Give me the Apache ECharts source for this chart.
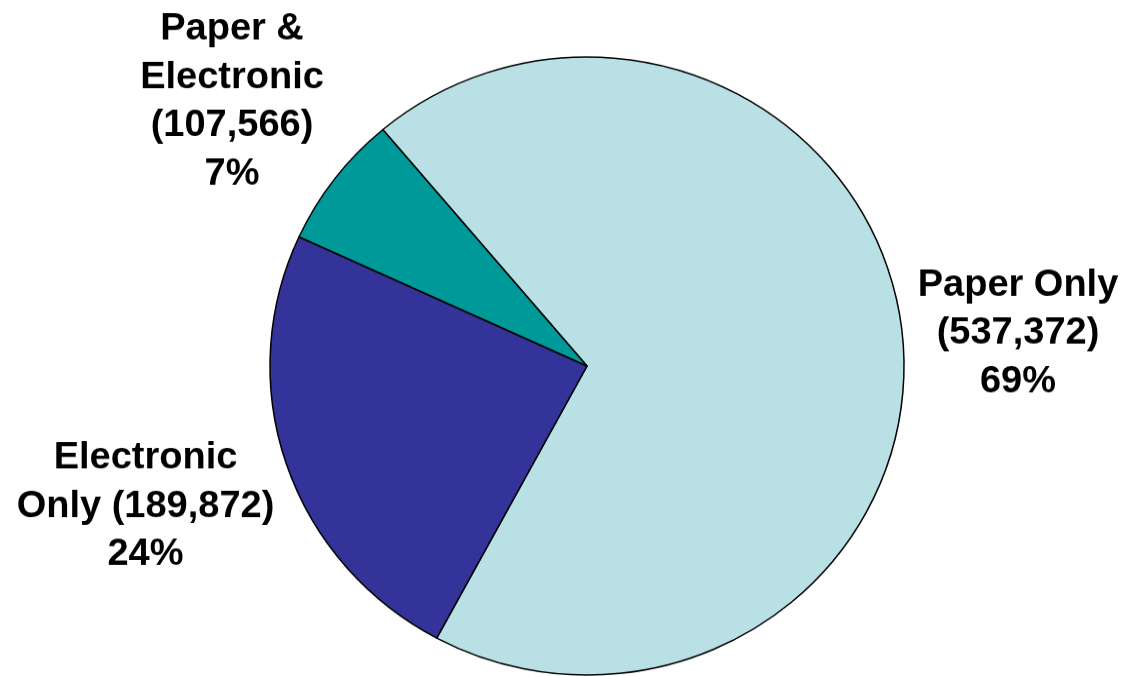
<!DOCTYPE html>
<html>
<head>
<meta charset="utf-8">
<script src="https://cdn.jsdelivr.net/npm/echarts@6/dist/echarts.min.js"></script>
<style>
html,body{margin:0;padding:0;background:#fff;overflow:hidden;}
#wrap{width:1123px;height:676px;overflow:hidden;position:relative;}
#chart{width:1123px;height:700px;transform:scaleY(0.9748);transform-origin:587px 366px;}
</style>
</head>
<body>
<div id="wrap"><div id="chart"></div></div>
<script>
var categories = ['Paper Only', 'Electronic Only', 'Paper & Electronic'];
var counts = ['537,372', '189,872', '107,566'];
var percents = [69, 24, 7];
var labelLines = [
  ['Paper Only', '(537,372)', '69%'],
  ['Electronic', 'Only (189,872)', '24%'],
  ['Paper &', 'Electronic', '(107,566)', '7%']
];
var colors = ['#B9E0E4', '#333399', '#009999'];
var labelPos = [[1018, 332.7], [145.5, 510.1], [232, 95.2]];

var chart = echarts.init(document.getElementById('chart'));
chart.setOption({
  animation: false,
  backgroundColor: '#ffffff',
  series: [{
    type: 'pie',
    center: [587, 366],
    radius: 317,
    startAngle: 130.1,
    clockwise: true,
    avoidLabelOverlap: false,
    data: categories.map(function (c, i) {
      return {
        name: c,
        value: percents[i],
        itemStyle: { color: colors[i] }
      };
    }),
    itemStyle: { borderColor: '#000', borderWidth: 1.5 },
    emphasis: { disabled: true },
    label: {
      show: true,
      position: 'outside',
      formatter: function (p) { return labelLines[p.dataIndex].join('\n'); },
      fontFamily: 'Liberation Sans, Arial, sans-serif',
      fontWeight: 'bold',
      fontSize: 38,
      lineHeight: 49.5,
      color: '#000',
      align: 'center'
    },
    labelLine: { show: false },
    labelLayout: function (p) {
      var pos = labelPos[p.dataIndex];
      return { x: pos[0], y: pos[1], align: 'center', verticalAlign: 'middle' };
    }
  }]
});
</script>
</body>
</html>
